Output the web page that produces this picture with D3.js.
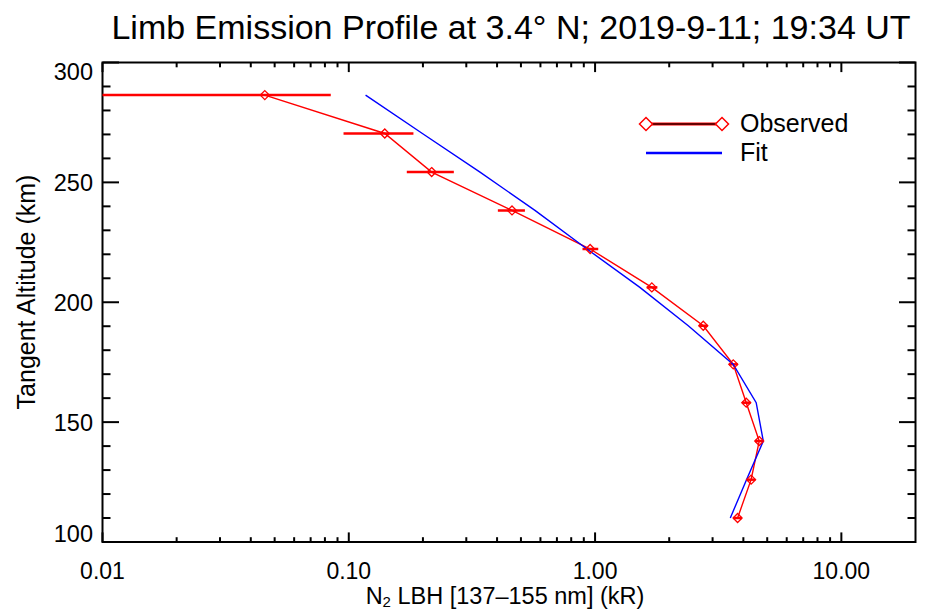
<!DOCTYPE html>
<html>
<head>
<meta charset="utf-8">
<script src="https://cdn.jsdelivr.net/npm/d3@7"></script>
<style>
  html, body { margin: 0; padding: 0; background: #fff; }
  text { font-family: "Liberation Sans", Arial, Helvetica, sans-serif; fill: #000; }
</style>
</head>
<body>
<svg id="chart" width="925" height="609"></svg>
<script>
// ---- data ----
const altitudes = [286.4, 270.4, 254.3, 238.3, 222.2, 206.2, 190.2, 174.1, 158.1, 142.1, 126.0, 110.0];
const observed  = [0.0456, 0.140, 0.217, 0.460, 0.955, 1.70, 2.75, 3.64, 4.11, 4.64, 4.30, 3.79];
const errLow    = [0.005, 0.0952, 0.172, 0.403, 0.889, 1.62, 2.64, 3.50, 3.95, 4.46, 4.13, 3.64];
const errHigh   = [0.0845, 0.183, 0.267, 0.519, 1.03, 1.79, 2.86, 3.79, 4.28, 4.83, 4.47, 3.94];
const fit       = [0.117, 0.199, 0.341, 0.57, 0.927, 1.52, 2.39, 3.64, 4.51, 4.82, 4.12, 3.54];
const xTickValues = [0.01, 0.1, 1, 10];
const xTickLabels = ["0.01", "0.10", "1.00", "10.00"];
const yTickValues = [100, 150, 200, 250, 300];
const titleText = "Limb Emission Profile at 3.4\u00B0 N; 2019-9-11; 19:34 UT";
const yTitle = "Tangent Altitude (km)";
const legendLabels = ["Observed", "Fit"];

// ---- layout ----
const svg = d3.select("#chart");
const L = 102.5, R = 915.5, T = 62.5, B = 542;
const x = d3.scaleLog().domain([0.01, 20]).range([L, R]);
const y = d3.scaleLinear().domain([100, 300]).range([B, T]);

svg.append("defs").append("clipPath").attr("id", "plotclip")
  .append("rect").attr("x", L).attr("y", T).attr("width", R - L).attr("height", B - T);

const xMinor = [];
for (let e = -2; e <= 1; e++) {
  for (let m = 2; m <= 9; m++) {
    const v = m * Math.pow(10, e);
    if (v < 20) xMinor.push(v);
  }
}
const yMinor = d3.range(110, 300, 10).filter(v => v % 50 !== 0);

const xMajLen = 9.6, xMinLen = 4.8, yMajLen = 16.5, yMinLen = 8;
const axisG = svg.append("g").attr("stroke", "#000").attr("stroke-width", 2).attr("fill", "none");

function xTicks(vals, len) {
  vals.forEach(v => {
    const px = x(v);
    axisG.append("line").attr("x1", px).attr("x2", px).attr("y1", B).attr("y2", B - len);
    axisG.append("line").attr("x1", px).attr("x2", px).attr("y1", T).attr("y2", T + len);
  });
}
xTicks(xTickValues, xMajLen);
xTicks(xMinor, xMinLen);
function yTicks(vals, len) {
  vals.forEach(v => {
    const py = y(v);
    axisG.append("line").attr("x1", L).attr("x2", L + len).attr("y1", py).attr("y2", py);
    axisG.append("line").attr("x1", R).attr("x2", R - len).attr("y1", py).attr("y2", py);
  });
}
yTicks(yTickValues, yMajLen);
yTicks(yMinor, yMinLen);

axisG.append("rect").attr("x", L).attr("y", T).attr("width", R - L).attr("height", B - T);

// tick labels
svg.append("g").selectAll("text").data(xTickValues).join("text")
  .attr("x", d => x(d)).attr("y", 578.5)
  .attr("text-anchor", "middle").attr("font-size", 23)
  .text((d, i) => xTickLabels[i]);

svg.append("g").selectAll("text").data(yTickValues).join("text")
  .attr("x", 93).attr("y", d => Math.min(Math.max(y(d), T + 8.5), B - 8.5) + 8.5)
  .attr("text-anchor", "end").attr("font-size", 23.5)
  .text(d => d);

// titles
svg.append("text").attr("x", 511).attr("y", 39).attr("text-anchor", "middle")
  .attr("font-size", 34).text(titleText);

const xt = svg.append("text").attr("x", 505).attr("y", 604).attr("text-anchor", "middle").attr("font-size", 23.5);
xt.append("tspan").text("N");
xt.append("tspan").attr("font-size", 15).attr("dy", 3).text("2");
xt.append("tspan").attr("dy", -3).text(" LBH [137\u2013155 nm] (kR)");

svg.append("text").attr("transform", "translate(35,292) rotate(-90)")
  .attr("text-anchor", "middle").attr("font-size", 25).text(yTitle);

// ---- plot ----
const plot = svg.append("g").attr("clip-path", "url(#plotclip)");
const idx = d3.range(altitudes.length);

plot.append("g").selectAll("line").data(idx).join("line")
  .attr("x1", i => x(errLow[i])).attr("x2", i => x(errHigh[i]))
  .attr("y1", i => y(altitudes[i])).attr("y2", i => y(altitudes[i]))
  .attr("stroke", "red").attr("stroke-width", 2.5);

const line = d3.line().x(d => x(d[0])).y(d => y(d[1]));
plot.append("path").datum(idx.map(i => [observed[i], altitudes[i]]))
  .attr("d", line).attr("fill", "none").attr("stroke", "red").attr("stroke-width", 1.4);

plot.append("path").datum(idx.map(i => [fit[i], altitudes[i]]))
  .attr("d", line).attr("fill", "none").attr("stroke", "blue").attr("stroke-width", 1.4);

const dsz = 4.5;
function diamond(cx, cy, s) {
  return `M${cx},${cy - s}L${cx + s},${cy}L${cx},${cy + s}L${cx - s},${cy}Z`;
}
plot.append("g").selectAll("path").data(idx).join("path")
  .attr("d", i => diamond(x(observed[i]), y(altitudes[i]), dsz))
  .attr("fill", "none").attr("stroke", "red").attr("stroke-width", 1.3);

// ---- legend ----
const lg = svg.append("g");
const lx1 = 646, lx2 = 722, ly1 = 124, ly2 = 153;
lg.append("line").attr("x1", lx1).attr("x2", lx2).attr("y1", ly1).attr("y2", ly1)
  .attr("stroke", "red").attr("stroke-width", 3);
lg.append("line").attr("x1", lx1).attr("x2", lx2).attr("y1", ly1).attr("y2", ly1)
  .attr("stroke", "#300").attr("stroke-width", 1.3);
[lx1, lx2].forEach(cx => {
  lg.append("path").attr("d", diamond(cx, ly1, 6.5))
    .attr("fill", "#fff").attr("stroke", "red").attr("stroke-width", 1.5);
});
lg.append("line").attr("x1", lx1).attr("x2", lx2).attr("y1", ly2).attr("y2", ly2)
  .attr("stroke", "blue").attr("stroke-width", 2.5);
lg.append("text").attr("x", 740).attr("y", 132).attr("font-size", 25).text(legendLabels[0]);
lg.append("text").attr("x", 740).attr("y", 161).attr("font-size", 25).text(legendLabels[1]);
</script>
</body>
</html>
